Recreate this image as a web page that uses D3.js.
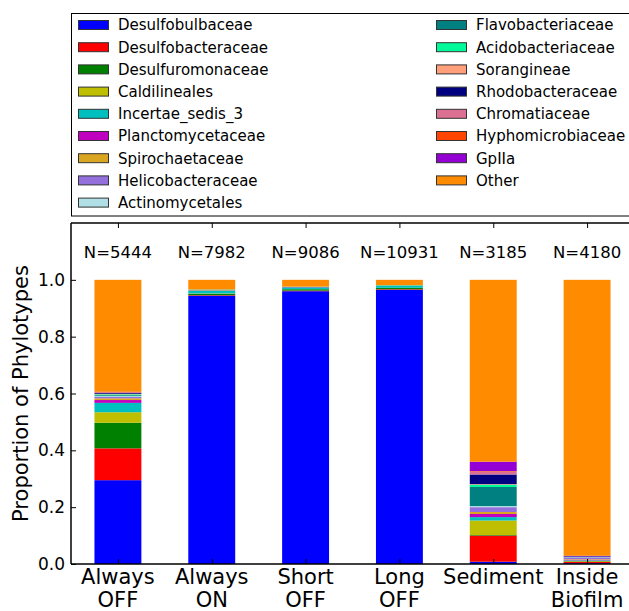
<!DOCTYPE html>
<html>
<head>
<meta charset="utf-8">
<script src="https://cdn.jsdelivr.net/npm/d3@7/dist/d3.min.js"></script>
<style>
  html, body { margin: 0; padding: 0; background: #fff; }
  svg { display: block; font-family: "DejaVu Sans", sans-serif; }
</style>
</head>
<body>
<svg id="chart" width="629" height="611"></svg>
<script>
// Samples (bars) and their read counts
const samples = ["Always\nOFF", "Always\nON", "Short\nOFF", "Long\nOFF", "Sediment", "Inside\nBiofilm"];
const counts = [5444, 7982, 9086, 10931, 3185, 4180];

// Families in stacking order (bottom to top) and their colours
const families = [
  "Desulfobulbaceae", "Desulfobacteraceae", "Desulfuromonaceae", "Caldilineales",
  "Incertae_sedis_3", "Planctomycetaceae", "Spirochaetaceae", "Helicobacteraceae",
  "Actinomycetales", "Flavobacteriaceae", "Acidobacteriaceae", "Sorangineae",
  "Rhodobacteraceae", "Chromatiaceae", "Hyphomicrobiaceae", "GpIIa", "Other"
];
const colors = [
  "#0000ff", "#ff0000", "#008000", "#bfbf00",
  "#00bfbf", "#bf00bf", "#daa520", "#9370db",
  "#b0e0e6", "#008080", "#00fa9a", "#ffa07a",
  "#000080", "#db7093", "#ff4500", "#9400d3", "#ff8c00"
];

// Proportion of each family per sample (order as in `samples`)
const desulfobulbaceae  = [0.295, 0.944, 0.960, 0.965, 0.008, 0.003];
const desulfobacteraceae = [0.112, 0.002, 0.002, 0.002, 0.092, 0.004];
const desulfuromonaceae = [0.090, 0.005, 0.005, 0.005, 0.002, 0.002];
const caldilineales     = [0.037, 0.001, 0.000, 0.000, 0.051, 0.002];
const incertaeSedis3    = [0.033, 0.010, 0.006, 0.007, 0.012, 0.002];
const planctomycetaceae = [0.010, 0.001, 0.001, 0.000, 0.011, 0.002];
const spirochaetaceae   = [0.006, 0.001, 0.000, 0.000, 0.007, 0.002];
const helicobacteraceae = [0.005, 0.000, 0.000, 0.000, 0.017, 0.006];
const actinomycetales   = [0.003, 0.000, 0.000, 0.000, 0.004, 0.001];
const flavobacteriaceae = [0.003, 0.001, 0.001, 0.001, 0.067, 0.001];
const acidobacteriaceae = [0.003, 0.001, 0.001, 0.001, 0.008, 0.000];
const sorangineae       = [0.002, 0.000, 0.000, 0.000, 0.002, 0.000];
const rhodobacteraceae  = [0.003, 0.000, 0.000, 0.000, 0.034, 0.002];
const chromatiaceae     = [0.002, 0.000, 0.000, 0.000, 0.010, 0.000];
const hyphomicrobiaceae = [0.001, 0.000, 0.000, 0.000, 0.002, 0.000];
const gpIIa             = [0.001, 0.000, 0.000, 0.000, 0.033, 0.002];

const yTicks = [0.0, 0.2, 0.4, 0.6, 0.8, 1.0];

const familySeries = [
  desulfobulbaceae, desulfobacteraceae, desulfuromonaceae, caldilineales,
  incertaeSedis3, planctomycetaceae, spirochaetaceae, helicobacteraceae,
  actinomycetales, flavobacteriaceae, acidobacteriaceae, sorangineae,
  rhodobacteraceae, chromatiaceae, hyphomicrobiaceae, gpIIa
];
// "Other" fills each bar up to 1
const other = samples.map((_, i) => 1 - d3.sum(familySeries, s => s[i]));
const allSeries = familySeries.concat([other]);

// Table for d3.stack
const table = samples.map((s, i) => {
  const row = { sample: s };
  families.forEach((f, k) => { row[f] = allSeries[k][i]; });
  return row;
});

const svg = d3.select("#chart");
const plot = { left: 71, right: 634, top: 223, bottom: 564 };

// x in bar-index units: bars sit on [i, i + 0.5], axis spans -0.25 .. 5.75
const x = d3.scaleLinear().domain([-0.25, 5.75]).range([plot.left, plot.right]);
const y = d3.scaleLinear().domain([0, 1.2]).range([plot.bottom, plot.top]);
const barW = 0.5;

const stack = d3.stack().keys(families);
const layers = stack(table);

const g = svg.append("g");
g.selectAll("g.layer")
  .data(layers)
  .join("g")
  .attr("class", "layer")
  .attr("fill", (d, k) => colors[k])
  .selectAll("rect")
  .data(d => d)
  .join("rect")
  .attr("x", (d, i) => x(i))
  .attr("width", x(barW) - x(0))
  .attr("y", d => y(d[1]))
  .attr("height", d => Math.max(0, y(d[0]) - y(d[1])));

// Axes frame
const axisColor = "#000";
svg.append("line").attr("x1", plot.left).attr("x2", plot.left).attr("y1", plot.top).attr("y2", plot.bottom)
  .attr("stroke", axisColor).attr("stroke-width", 1.5);
svg.append("line").attr("x1", plot.left).attr("x2", plot.right).attr("y1", plot.bottom).attr("y2", plot.bottom)
  .attr("stroke", axisColor).attr("stroke-width", 1.5);
svg.append("line").attr("x1", plot.left).attr("x2", plot.right).attr("y1", plot.top).attr("y2", plot.top)
  .attr("stroke", axisColor).attr("stroke-width", 1.5);

// Y axis: inward ticks, labels on the left
const yAxis = d3.axisRight(y).tickValues(yTicks).tickSize(5).tickFormat("");
const yg = svg.append("g").attr("transform", `translate(${plot.left},0)`).call(yAxis);
yg.select(".domain").remove();
yg.selectAll(".tick line").attr("stroke", "#000");
svg.selectAll("text.ytick")
  .data(yTicks)
  .join("text")
  .attr("class", "ytick")
  .attr("x", plot.left - 6)
  .attr("y", d => y(d))
  .attr("dy", "0.36em")
  .attr("text-anchor", "end")
  .attr("font-size", 17)
  .text(d3.format(".1f"));

// X axis: inward ticks at bar centres (bottom and top)
const centers = samples.map((_, i) => i + barW / 2);
const xAxisB = d3.axisTop(x).tickValues(centers).tickSize(5).tickFormat("");
const xb = svg.append("g").attr("transform", `translate(0,${plot.bottom})`).call(xAxisB);
xb.select(".domain").remove();
const xAxisT = d3.axisBottom(x).tickValues(centers).tickSize(5).tickFormat("");
const xt = svg.append("g").attr("transform", `translate(0,${plot.top})`).call(xAxisT);
xt.select(".domain").remove();

// Sample labels (two lines)
svg.selectAll("text.xlabel")
  .data(samples)
  .join("text")
  .attr("class", "xlabel")
  .attr("text-anchor", "middle")
  .attr("font-size", 21)
  .attr("fill", "#000")
  .each(function (d, i) {
    const lines = d.split("\n");
    const t = d3.select(this);
    lines.forEach((ln, j) => {
      t.append("tspan")
        .attr("x", x(centers[i]))
        .attr("y", 584 + j * 23)
        .text(ln);
    });
  });

// Read counts above bars
svg.selectAll("text.nlabel")
  .data(counts)
  .join("text")
  .attr("class", "nlabel")
  .attr("x", (d, i) => x(centers[i]))
  .attr("y", 258)
  .attr("text-anchor", "middle")
  .attr("font-size", 16.5)
  .text(d => "N=" + d);

// Y axis title
svg.append("text")
  .attr("transform", `translate(28,${(plot.top + plot.bottom) / 2}) rotate(-90)`)
  .attr("text-anchor", "middle")
  .attr("font-size", 21)
  .text("Proportion of Phylotypes");

// Legend (two columns)
const legend = svg.append("g");
legend.append("rect")
  .attr("x", 71.5).attr("y", 13.5)
  .attr("width", 560).attr("height", 202.5)
  .attr("fill", "#fff").attr("stroke", "#000").attr("stroke-width", 1);
const perCol = 9;
const colX = [78, 436];
const rowH = 22.2;
legend.selectAll("g.item")
  .data(families)
  .join("g")
  .attr("class", "item")
  .attr("transform", (d, k) => {
    const c = Math.floor(k / perCol), r = k % perCol;
    return `translate(${colX[c]},${25 + r * rowH})`;
  })
  .each(function (d) {
    const k = families.indexOf(d);
    const it = d3.select(this);
    it.append("rect")
      .attr("x", 0.5).attr("y", -4.5)
      .attr("width", 30).attr("height", 9)
      .attr("fill", colors[k])
      .attr("stroke", "#333").attr("stroke-width", 1);
    it.append("text")
      .attr("x", 40).attr("y", 0)
      .attr("dy", "0.36em")
      .attr("font-size", 15)
      .text(d);
  });
</script>
</body>
</html>
